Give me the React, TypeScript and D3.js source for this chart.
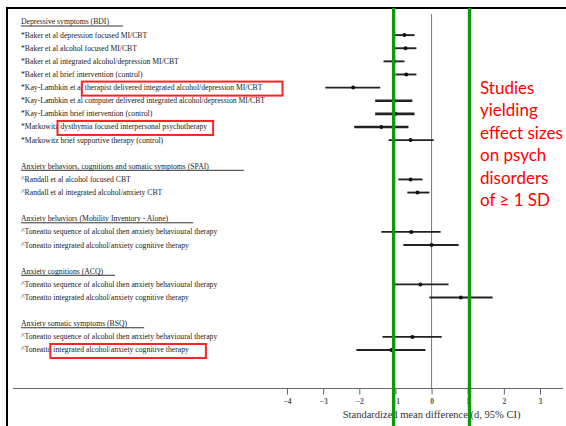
import React, {Component} from "react";
import * as d3 from "d3";

// outcome headers, one per block of studies
const headers = [
    "Depressive symptoms (BDI)",
    "Anxiety behaviors, cognitions and somatic symptoms (SPAI)",
    "Anxiety behaviors (Mobility Inventory - Alone)",
    "Anxiety cognitions (ACQ)",
    "Anxiety somatic symptoms (BSQ)",
];

const studies = [
    "*Baker et al depression focused MI/CBT",
    "*Baker et al alcohol focused MI/CBT",
    "*Baker et al integrated alcohol/depression MI/CBT",
    "*Baker et al brief intervention (control)",
    "*Kay-Lambkin et al therapist delivered integrated alcohol/depression MI/CBT",
    "*Kay-Lambkin et al computer delivered integrated alcohol/depression MI/CBT",
    "*Kay-Lambkin brief intervention (control)",
    "*Markowitz dysthymia focused interpersonal psychotherapy",
    "*Markowitz brief supportive therapy (control)",
    "^Randall et al alcohol focused CBT",
    "^Randall et al integrated alcohol/anxiety CBT",
    "^Toneatto sequence of alcohol then anxiety behavioural therapy",
    "^Toneatto integrated alcohol/anxiety cognitive therapy",
    "^Toneatto sequence of alcohol then anxiety behavioural therapy",
    "^Toneatto integrated alcohol/anxiety cognitive therapy",
    "^Toneatto sequence of alcohol then anxiety behavioural therapy",
    "^Toneatto integrated alcohol/anxiety cognitive therapy",
];
const studyGroup = [0, 0, 0, 0, 0, 0, 0, 0, 0, 1, 1, 2, 2, 3, 3, 4, 4];

const estimates = [-0.75, -0.72, -1.04, -0.70, -2.17, -1.04, -1.00, -1.39, -0.58, -0.58, -0.39, -0.56, 0.00, -0.31, 0.81, -0.53, -1.11];
const lowerCI   = [-1.02, -1.02, -1.33, -1.00, -2.94, -1.56, -1.56, -2.14, -1.19, -0.92, -0.67, -1.39, -0.78, -1.03, -0.06, -1.36, -2.08];
const upperCI   = [-0.47, -0.42, -0.75, -0.42, -1.42, -0.53, -0.47, -0.64, 0.06, -0.25, -0.06, 0.25, 0.75, 0.47, 1.69, 0.28, -0.17];
const thickCI   = [false, false, false, false, false, true, true, true, false, false, false, false, false, false, false, false, false];

const xTicks = [-4, -3, -2, -1, 0, 1, 2, 3];
const sdThresholds = [-1.05, 1.05];

// label parts boxed in red on the slide
const highlights = [
    {row: 4, text: "therapist delivered integrated alcohol/depression MI/CBT"},
    {row: 7, text: "dysthymia focused interpersonal psychotherapy"},
    {row: 16, text: "integrated alcohol/anxiety cognitive therapy"},
];
const boxPadRight = [20, 6, 17];
const headerUnderlineExtra = [14, 35, 25, 12, 17];

const note = ["Studies", "yielding", "effect sizes", "on psych", "disorders", "of \u2265 1 SD"];

const W = 566, H = 426;

class ForestPlot extends Component {
    node: SVGSVGElement | null = null;

    componentDidMount() {
        this.draw();
    }

    draw() {
        const svg = d3.select(this.node);
        svg.selectAll("*").remove();

        // slot layout: header, its rows, then a blank line before the next header
        const slotOfHeader: number[] = [];
        const slotOfRow: number[] = [];
        let slot = 0;
        headers.forEach((h, g) => {
            if (g > 0) slot++;
            slotOfHeader.push(slot++);
            studyGroup.forEach((sg, i) => { if (sg === g) slotOfRow[i] = slot++; });
        });

        const y = d3.scaleLinear().domain([0, slot - 1]).range([22, 350]);
        const x = d3.scaleLinear().domain([-4, 3]).range([287, 540]);
        const axisY = 388.5;

        const labelFont = "'Liberation Serif', 'Times New Roman', serif";

        // frame
        svg.append("line").attr("x1", 6).attr("x2", W).attr("y1", 8).attr("y2", 8)
            .attr("stroke", "#000").attr("stroke-width", 2);
        svg.append("line").attr("x1", 7).attr("x2", 7).attr("y1", 7).attr("y2", H)
            .attr("stroke", "#000").attr("stroke-width", 2);

        // headers
        const hdr = svg.append("g")
            .attr("font-family", labelFont)
            .attr("font-size", 7.7)
            .attr("fill", "#222");
        headers.forEach((h, g) => {
            const t = hdr.append("text")
                .attr("x", 21).attr("y", y(slotOfHeader[g])).attr("dy", "0.32em")
                .text(h);
            const len = (t.node() as SVGTextElement).getComputedTextLength();
            hdr.append("line")
                .attr("x1", 21).attr("x2", 21 + len + headerUnderlineExtra[g])
                .attr("y1", y(slotOfHeader[g]) + 4).attr("y2", y(slotOfHeader[g]) + 4)
                .attr("stroke", "#333").attr("stroke-width", 1);
        });

        // study labels
        const labels = svg.append("g")
            .attr("font-family", labelFont)
            .attr("font-size", 7.7)
            .attr("fill", "#222")
        .selectAll("text")
        .data(studies)
        .join("text")
            .attr("x", 21)
            .attr("y", (d, i) => y(slotOfRow[i]))
            .attr("dy", "0.32em")
            .text(d => d);

        // red boxes around highlighted parts of labels
        highlights.forEach((hl, k) => {
            const el = labels.nodes()[hl.row] as SVGTextElement;
            const start = studies[hl.row].indexOf(hl.text);
            const x0 = 21 + el.getSubStringLength(0, start);
            const w = el.getSubStringLength(start, hl.text.length);
            svg.append("rect")
                .attr("x", x0 - 3).attr("y", y(slotOfRow[hl.row]) - 6)
                .attr("width", w + 3 + boxPadRight[k]).attr("height", 14)
                .attr("fill", "none")
                .attr("stroke", "#f22")
                .attr("stroke-width", 2);
        });

        // axis line and ticks
        svg.append("line").attr("x1", 13).attr("x2", 563).attr("y1", axisY).attr("y2", axisY)
            .attr("stroke", "#666").attr("stroke-width", 1);
        const axis = svg.append("g")
            .attr("transform", `translate(0,${axisY})`)
            .call(d3.axisBottom(x).tickValues(xTicks).tickSize(6).tickFormat(d3.format("d")));
        axis.select(".domain").remove();
        axis.selectAll("line").attr("stroke", "#666");
        axis.selectAll("text")
            .attr("font-family", labelFont)
            .attr("font-size", 7.6)
            .attr("font-weight", "bold")
            .attr("fill", "#555")
            .attr("y", 10);

        svg.append("text")
            .attr("x", x(0)).attr("y", 418)
            .attr("text-anchor", "middle")
            .attr("font-family", labelFont)
            .attr("font-size", 10.5)
            .attr("fill", "#333")
            .text("Standardized mean difference (d, 95% CI)");

        // no-effect line
        svg.append("line").attr("x1", x(0)).attr("x2", x(0)).attr("y1", 14).attr("y2", axisY)
            .attr("stroke", "#555").attr("stroke-width", 0.8);

        // confidence intervals and estimates
        svg.append("g")
            .attr("stroke", "#222")
        .selectAll("line")
        .data(estimates)
        .join("line")
            .attr("x1", (d, i) => x(lowerCI[i]))
            .attr("x2", (d, i) => x(upperCI[i]))
            .attr("y1", (d, i) => y(slotOfRow[i]))
            .attr("y2", (d, i) => y(slotOfRow[i]))
            .attr("stroke-width", (d, i) => thickCI[i] ? 2.6 : 1.9);

        svg.append("g")
            .attr("fill", "#111")
        .selectAll("circle")
        .data(estimates)
        .join("circle")
            .attr("cx", d => x(d))
            .attr("cy", (d, i) => y(slotOfRow[i]))
            .attr("r", 2);

        // +/- 1 SD lines
        svg.append("g")
            .attr("stroke", "#0a9a0a")
            .attr("stroke-width", 3.4)
        .selectAll("line")
        .data(sdThresholds)
        .join("line")
            .attr("x1", d => x(d)).attr("x2", d => x(d))
            .attr("y1", 8).attr("y2", H);

        // annotation
        svg.append("g")
            .attr("font-family", "Lato, sans-serif")
            .attr("font-size", 17)
            .attr("fill", "#f00")
        .selectAll("text")
        .data(note)
        .join("text")
            .attr("x", 480)
            .attr("y", (d, i) => 88 + i * 22.5)
            .attr("dy", "0.35em")
            .text(d => d);
    }

    render() {
        return <svg ref={node => { this.node = node; }}
            width={W} height={H}
            style={{position: "absolute", left: 0, top: 0, background: "#fff"}}>
        </svg>;
    }
}

export default function App() {
    return <ForestPlot />;
}
